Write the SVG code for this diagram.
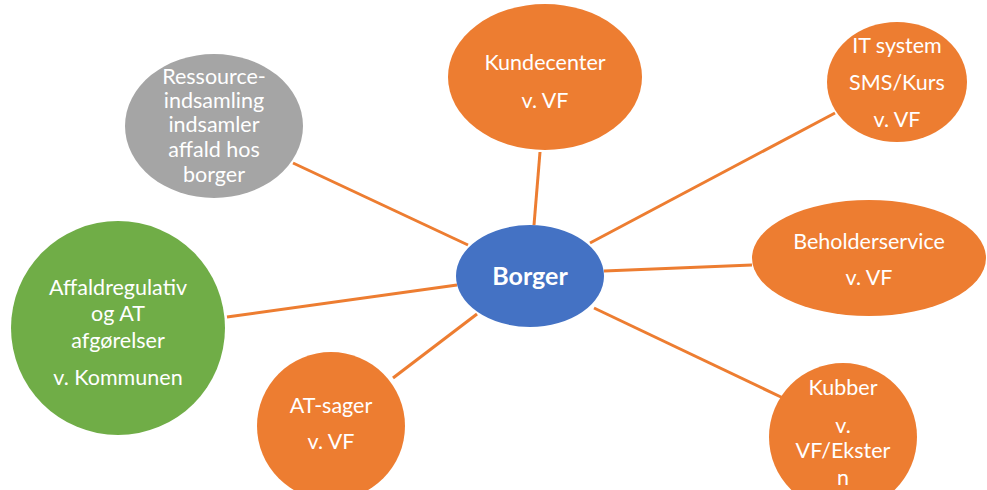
<svg xmlns="http://www.w3.org/2000/svg" width="987" height="490" viewBox="0 0 987 490">
<style>
.t{font-family:Lato,"Liberation Sans",sans-serif;font-size:21.5px;fill:#ffffff;text-anchor:middle}
.b{font-weight:bold;font-size:25px}
.o{fill:#ED7D31}
.c{stroke:#ED7D31;stroke-width:3;fill:none}
</style>
<rect width="987" height="490" fill="#ffffff"/>
<g id="connectors">
<line class="c" x1="468" y1="245" x2="293" y2="163"/>
<line class="c" x1="534" y1="225" x2="540" y2="152"/>
<line class="c" x1="590" y1="243" x2="835" y2="113"/>
<line class="c" x1="604" y1="271" x2="752" y2="265"/>
<line class="c" x1="594" y1="308" x2="783" y2="398"/>
<line class="c" x1="477" y1="314" x2="393" y2="378"/>
<line class="c" x1="457" y1="285" x2="227" y2="317"/>
</g>
<g id="ressource">
<ellipse cx="214" cy="126" rx="89" ry="72" fill="#A5A5A5"/>
<text class="t" x="214" y="84">Ressource-</text>
<text class="t" x="214" y="108">indsamling</text>
<text class="t" x="214" y="132">indsamler</text>
<text class="t" x="214" y="157">affald hos</text>
<text class="t" x="214" y="182">borger</text>
</g>
<g id="kundecenter">
<ellipse class="o" cx="545" cy="77" rx="97" ry="73"/>
<text class="t" x="545" y="70">Kundecenter</text>
<text class="t" x="545" y="108">v. VF</text>
</g>
<g id="itsystem">
<ellipse class="o" cx="897" cy="82" rx="70" ry="60"/>
<text class="t" x="897" y="53">IT system</text>
<text class="t" x="897" y="90">SMS/Kurs</text>
<text class="t" x="897" y="127">v. VF</text>
</g>
<g id="beholderservice">
<ellipse class="o" cx="869" cy="258" rx="117" ry="58"/>
<text class="t" x="869" y="249">Beholderservice</text>
<text class="t" x="869" y="285">v. VF</text>
</g>
<g id="borger">
<ellipse cx="530" cy="276" rx="74" ry="51" fill="#4472C4"/>
<text class="t b" x="530" y="285">Borger</text>
</g>
<g id="affaldregulativ">
<circle cx="118" cy="328" r="107" fill="#70AD47"/>
<text class="t" x="118" y="295">Affaldregulativ</text>
<text class="t" x="118" y="321">og AT</text>
<text class="t" x="118" y="348">afgørelser</text>
<text class="t" x="118" y="385">v. Kommunen</text>
</g>
<g id="atsager">
<circle class="o" cx="331" cy="426" r="74"/>
<text class="t" x="331" y="413">AT-sager</text>
<text class="t" x="331" y="449">v. VF</text>
</g>
<g id="kubber">
<circle class="o" cx="843" cy="437" r="74"/>
<text class="t" x="843" y="395">Kubber</text>
<text class="t" x="843" y="433">v.</text>
<text class="t" x="843" y="458">VF/Ekster</text>
<text class="t" x="843" y="485">n</text>
</g>
</svg>
